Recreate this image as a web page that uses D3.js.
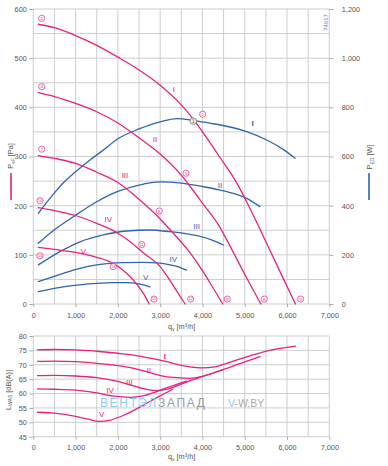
<!DOCTYPE html>
<html><head><meta charset="utf-8">
<script src="https://cdn.jsdelivr.net/npm/d3@7"></script>
<style>
body{margin:0;background:#fff;}
svg{display:block;}
text{font-family:"Liberation Sans",Arial,sans-serif;}
</style>
</head><body>
<svg id="c" width="388" height="466"></svg>
<script>
// ---------- axes / ticks ----------
const qTicks = [0,1000,2000,3000,4000,5000,6000,7000];
const qTickLabels = ["0","1,000","2,000","3,000","4,000","5,000","6,000","7,000"];
const paTicks = [0,100,200,300,400,500,600];
const wTicks = [0,200,400,600,800,1000,1200];
const wTickLabels = ["0","200","400","600","800","1,000","1,200"];
const dbTicks = [45,50,55,60,65,70,75,80];
const speeds = ["I","II","III","IV","V"];

// ---------- static pressure psF [Pa] vs qv [m3/h] ----------
const psf_I   = [[118,569],[500,562],[1000,546],[1500,526],[2000,502],[2500,476],[3000,445],[3500,405],[3800,374],[4000,350],[4400,300],[4800,248],[5045,208],[5400,145],[5800,72],[6200,0]];
const psf_II  = [[118,430],[500,422],[1000,408],[1500,391],[2000,368],[2500,338],[3000,305],[3500,262],[3700,240],[4000,205],[4400,158],[4700,110],[5040,54],[5380,0]];
const psf_III = [[118,302],[500,296],[1000,286],[1500,268],[2000,247],[2500,213],[3000,173],[3300,145],[3700,105],[4000,68],[4250,33],[4480,0]];
const psf_IV  = [[118,196],[500,190],[1000,180],[1500,164],[2000,144],[2300,126],[2600,104],[3000,76],[3200,52],[3400,25],[3590,0]];
const psf_V   = [[118,115],[500,111],[1000,105],[1500,95],[1900,82],[2200,63],[2450,40],[2600,22],[2740,0]];

// ---------- input power PED [W] vs qv ----------
const ped_I   = [[118,369],[500,452],[700,491],[1000,538],[1340,586],[1655,626],[2000,672],[2500,712],[3000,741],[3400,754],[3800,746],[4200,735],[4600,722],[5045,701],[5520,667],[5900,630],[6190,593]];
const ped_II  = [[118,247],[500,302],[946,355],[1500,416],[2000,458],[2500,484],[3000,497],[3500,492],[4000,478],[4400,464],[4800,446],[5045,430],[5360,396]];
const ped_III = [[118,159],[631,213],[1104,253],[1655,281],[2208,297],[2760,301],[3232,294],[3600,286],[3940,275],[4200,262],[4490,240]];
const ped_IV  = [[118,91],[709,125],[1100,145],[1498,159],[2129,168],[2600,169],[2995,166],[3232,159],[3450,150],[3620,138]];
const ped_V   = [[118,50],[709,70],[1100,78],[1498,84],[1900,87],[2208,87],[2500,82],[2760,70]];

// ---------- sound power LWAS [dB(A)] vs qv ----------
const lw_I   = [[100,75.2],[500,75.3],[1000,75.2],[1500,74.7],[2000,74.0],[2400,73.3],[2800,72.2],[3150,71.1],[3450,70.0],[3700,69.3],[4000,68.9],[4300,69.3],[4500,70.1],[4800,71.6],[5100,73.0],[5450,74.5],[5800,75.6],[6200,76.5]];
const lw_II  = [[100,71.2],[500,71.3],[1000,71.1],[1500,70.5],[2000,69.7],[2400,68.7],[2800,67.1],[3100,66.0],[3400,65.5],[3700,65.3],[4000,66.0],[4500,68.4],[5000,71.0],[5360,72.8]];
const lw_III = [[100,66.2],[500,66.3],[1000,66.1],[1500,65.5],[2000,64.2],[2500,62.1],[2900,61.0],[3200,61.6],[3500,63.3],[3800,64.9],[4100,66.4],[4490,68.3]];
const lw_IV  = [[100,61.6],[500,61.5],[1000,61.2],[1500,60.2],[1900,59.1],[2300,58.7],[2600,59.2],[2900,60.6],[3200,62.2],[3620,64.3]];
const lw_V   = [[100,53.5],[500,53.2],[1000,52.1],[1300,51.1],[1550,50.3],[1800,50.7],[2100,52.2],[2400,54.3],[2700,56.8],[3000,59.2],[3300,61.5]];

// ---------- annotations (data coordinates) ----------
const pointNums = ["1","4","7","10","13","2","5","8","11","14","3","6","9","12","15"];
const pointQ    = [199,199,199,158,158,4006,3611,2979,2563,1892,6323,5462,4587,3722,2854];
const pointPa   = [581,442,315,210,98,386,266,189,121,76,10,10,10,10,10];
const psfLabelQ  = [3325,2877,2168,1773,1182];
const psfLabelPa = [436,334,262,171,106];
const pedLabelQ  = [5188,4415,3864,3310,2658];
const pedLabelW  = [735,484,314,179,107];
const lwLabelQ   = [3110,2736,2270,1813,1617];
const lwLabelDb  = [72.8,67.9,63.8,61.0,52.8];
const opPoint = {q:3783, w:744, num:"1"};

const PINK = "#e2237f", BLUE = "#2f64ad", GRID = "#cdcdcd", TXT = "#555";

const svg = d3.select("#c");
const x = d3.scaleLinear([0,7000],[33.3,329.3]);
const yPa = d3.scaleLinear([0,600],[304,9]);
const yW  = d3.scaleLinear([0,1200],[304,9]);
const yDb = d3.scaleLinear([45,80],[436.7,336]);

function grid(yScale, yVals) {
  const g = svg.append("g");
  g.selectAll(".v").data(d3.range(0,7001,500)).join("line")
    .attr("x1",d=>x(d)).attr("x2",d=>x(d))
    .attr("y1",yScale.range()[1]).attr("y2",yScale.range()[0])
    .attr("stroke",GRID).attr("stroke-width",1);
  g.selectAll(".h").data(yVals).join("line")
    .attr("x1",x(0)).attr("x2",x(7000))
    .attr("y1",d=>yScale(d)).attr("y2",d=>yScale(d))
    .attr("stroke",GRID).attr("stroke-width",1);
}
grid(yPa, d3.range(0,601,50));
grid(yDb, d3.range(45,81,5));

function styleAxis(g){
  g.select(".domain").remove();
  g.selectAll(".tick line").attr("stroke","#aaa");
  g.selectAll(".tick text").attr("fill",TXT).attr("font-size","7.3px")
   .attr("font-family","Liberation Sans, Arial, sans-serif");
}
svg.append("g").attr("transform",`translate(${x(0)},0)`)
  .call(d3.axisLeft(yPa).tickValues(paTicks).tickSize(4).tickPadding(2.5)).call(styleAxis);
svg.append("g").attr("transform",`translate(${x(7000)},0)`)
  .call(d3.axisRight(yW).tickValues(wTicks).tickFormat((d,i)=>wTickLabels[i]).tickSize(4).tickPadding(8.5)).call(styleAxis);
svg.append("g").attr("transform",`translate(0,${yPa(0)})`)
  .call(d3.axisBottom(x).tickValues(qTicks).tickFormat((d,i)=>qTickLabels[i]).tickSize(3).tickPadding(6)).call(styleAxis);
svg.append("g").attr("transform",`translate(${x(0)},0)`)
  .call(d3.axisLeft(yDb).tickValues(dbTicks).tickSize(4).tickPadding(2.5)).call(styleAxis);
svg.append("g").attr("transform",`translate(0,${yDb(45)})`)
  .call(d3.axisBottom(x).tickValues(qTicks).tickFormat((d,i)=>qTickLabels[i]).tickSize(3).tickPadding(5.5)).call(styleAxis);

// ---------- curves ----------
function drawLine(data, yScale, color){
  const line = d3.line().x(d=>x(d[0])).y(d=>yScale(d[1])).curve(d3.curveMonotoneX);
  svg.append("path").datum(data).attr("d",line).attr("fill","none")
    .attr("stroke",color).attr("stroke-width",1.3).attr("stroke-linecap","round");
}
[ped_I,ped_II,ped_III,ped_IV,ped_V].forEach(s=>drawLine(s,yW,BLUE));
[psf_I,psf_II,psf_III,psf_IV,psf_V].forEach(s=>drawLine(s,yPa,PINK));
[lw_I,lw_II,lw_III,lw_IV,lw_V].forEach(s=>drawLine(s,yDb,PINK));

// ---------- labels ----------
speeds.forEach((s,i)=>{
  svg.append("text").attr("x",x(psfLabelQ[i])).attr("y",yPa(psfLabelPa[i]))
    .attr("text-anchor","middle").attr("dominant-baseline","central")
    .attr("font-size","8px").attr("fill",PINK).text(s);
  svg.append("text").attr("x",x(pedLabelQ[i])).attr("y",yW(pedLabelW[i]))
    .attr("text-anchor","middle").attr("dominant-baseline","central")
    .attr("font-size","8px").attr("font-weight",i===0?"bold":"normal").attr("fill",BLUE).text(s);
  svg.append("text").attr("x",x(lwLabelQ[i])).attr("y",yDb(lwLabelDb[i]))
    .attr("text-anchor","middle").attr("dominant-baseline","central")
    .attr("font-size","8px").attr("font-weight",i===0?"bold":"normal").attr("fill",PINK).text(s);
});

pointNums.forEach((n,i)=>{
  const g = svg.append("g").attr("transform",`translate(${x(pointQ[i])},${yPa(pointPa[i])})`);
  g.append("circle").attr("r",3.1).attr("fill","#fff").attr("stroke",PINK).attr("stroke-width",0.7);
  g.append("text").attr("text-anchor","middle").attr("dominant-baseline","central")
    .attr("font-size",n.length>1?"3.6px":"4.4px").attr("fill",PINK).text(n);
});
{
  const g = svg.append("g").attr("transform",`translate(${x(opPoint.q)},${yW(opPoint.w)})`);
  g.append("circle").attr("r",3.3).attr("fill","#eee").attr("stroke","#777").attr("stroke-width",0.8);
  g.append("text").attr("text-anchor","middle").attr("dominant-baseline","central")
    .attr("font-size","4.6px").attr("fill","#555").text(opPoint.num);
}

// ---------- axis titles ----------
function sub(t, main, s, rest){
  t.append("tspan").text(main);
  t.append("tspan").attr("font-size","5px").attr("dy","1.5").text(s);
  t.append("tspan").attr("dy","-1.5").text(rest);
}
{
  const t = svg.append("text").attr("transform","translate(13,156) rotate(-90)")
    .attr("text-anchor","middle").attr("font-size","7.3px").attr("fill",TXT);
  sub(t,"P","sF"," [Pa]");
  const t2 = svg.append("text").attr("transform","translate(372,157) rotate(-90)")
    .attr("text-anchor","middle").attr("font-size","7.3px").attr("fill",TXT);
  sub(t2,"P","ED"," [W]");
  const t3 = svg.append("text").attr("transform","translate(10.5,390) rotate(-90)")
    .attr("text-anchor","middle").attr("font-size","7.3px").attr("fill",TXT);
  sub(t3,"L","WAS"," [dB(A)]");
  const t4 = svg.append("text").attr("x",168).attr("y",329).attr("font-size","7.3px").attr("fill",TXT);
  sub(t4,"q","v"," [m³/h]");
  const t5 = svg.append("text").attr("x",168).attr("y",459).attr("font-size","7.3px").attr("fill",TXT);
  sub(t5,"q","v"," [m³/h]");
}
svg.append("line").attr("x1",11).attr("x2",11).attr("y1",173).attr("y2",200).attr("stroke",PINK).attr("stroke-width",1.6);
svg.append("line").attr("x1",369).attr("x2",369).attr("y1",173).attr("y2",200).attr("stroke",BLUE).attr("stroke-width",1.6);
svg.append("text").attr("transform","translate(328,22.5) rotate(-90)").attr("text-anchor","middle")
  .attr("font-size","6px").attr("fill","#777").text("74617");

// ---------- watermark ----------
svg.append("text").attr("x",100).attr("y",407).attr("font-size","12px").attr("fill","#8ccbf0")
  .attr("textLength",56).attr("lengthAdjust","spacing").text("ВЕНТЭЛ");
svg.append("text").attr("x",158).attr("y",407).attr("font-size","12px").attr("fill","#9a9a9a")
  .attr("textLength",47).attr("lengthAdjust","spacing").text("ЗАПАД");
{
  const t = svg.append("text").attr("x",228).attr("y",407).attr("font-size","10.5px").attr("fill","#aaa");
  t.append("tspan").attr("fill","#8ccbf0").text("V");
  t.append("tspan").text("-W.BY");
}
</script>
</body></html>
